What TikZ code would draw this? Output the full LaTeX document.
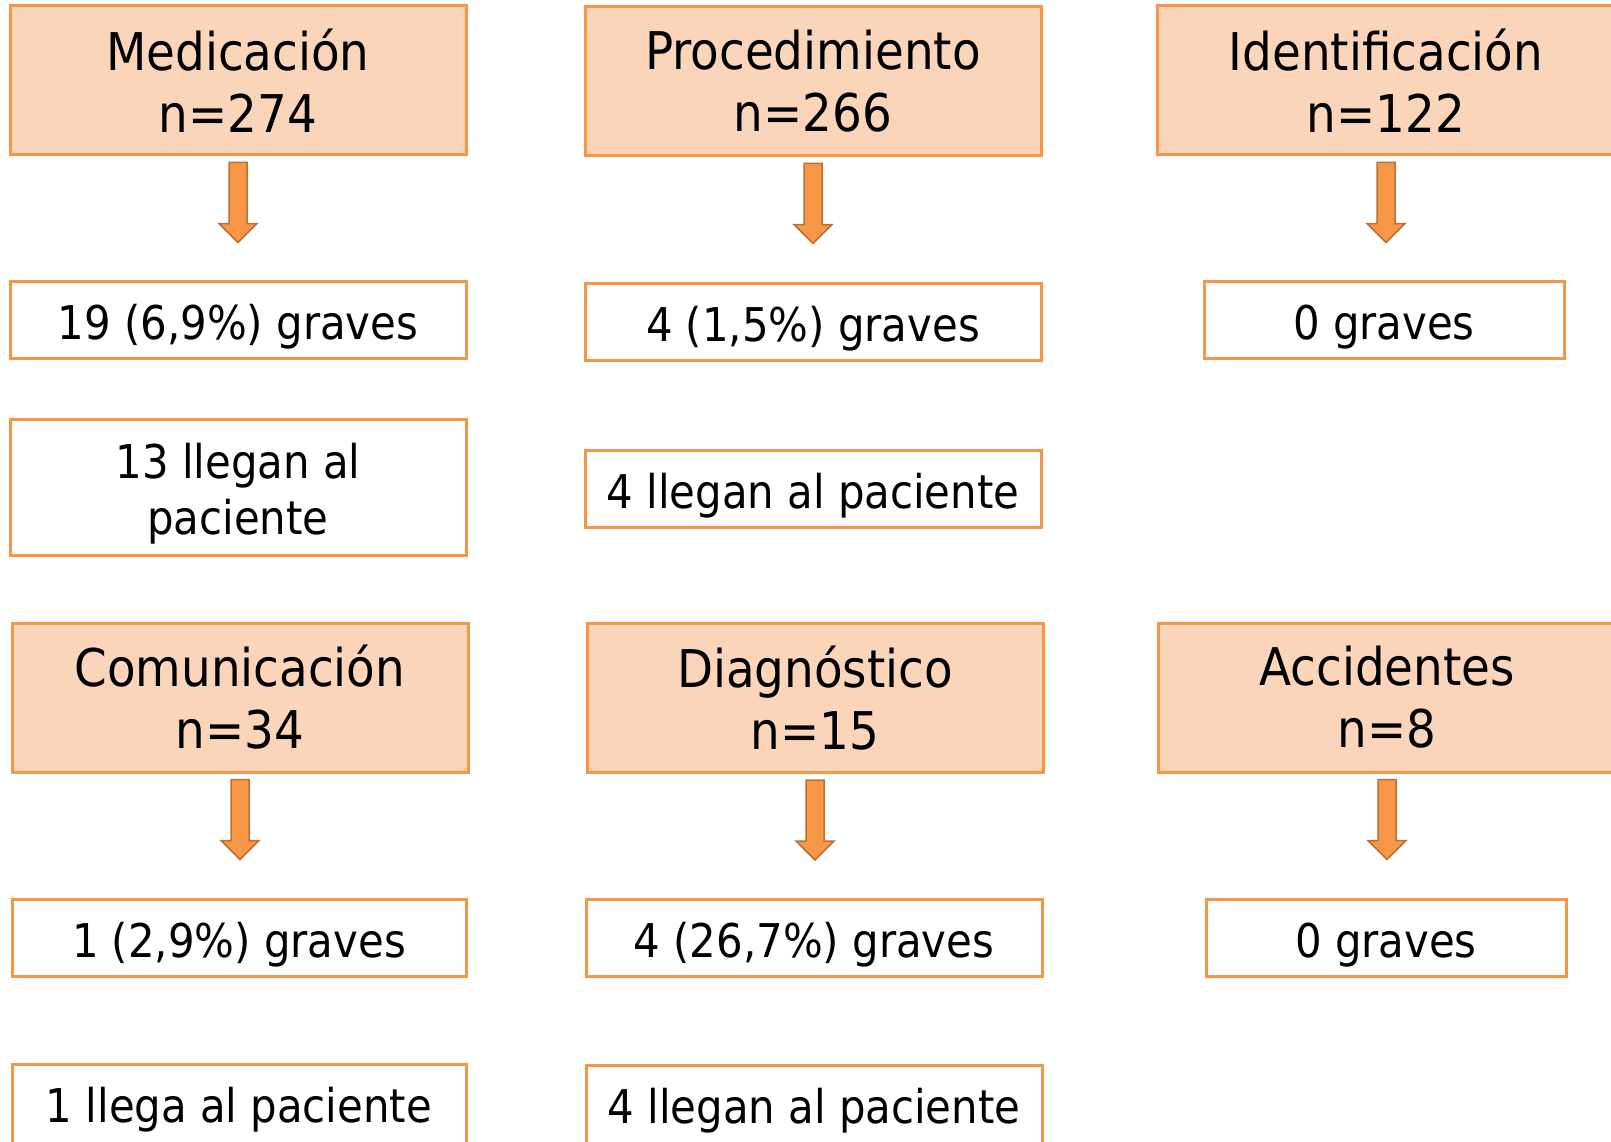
\documentclass[tikz,border=0pt]{standalone}
\usepackage{fontspec}
\setmainfont{DejaVu Sans Condensed}
\usetikzlibrary{calc}

\definecolor{naranja}{RGB}{247,150,70}
\definecolor{melocoton}{RGB}{250,213,186}
\definecolor{naranjaosc}{RGB}{185,113,53}

\tikzset{
        cabecera/.style={draw=naranja, fill=melocoton, line width=3pt, align=center,
                minimum width=456pt, minimum height=149pt, inner sep=0pt,
                font=\fontsize{52}{62}\selectfont},
        caja/.style={draw=naranja, fill=white, line width=3pt, align=center,
                minimum width=456pt, minimum height=77pt, inner sep=0pt,
                text height=45pt, text depth=6pt,
                font=\fontsize{46.5}{56}\selectfont},
        flecha/.style={draw=naranjaosc, fill=naranja, line width=1.5pt, line join=miter}
}

\begin{document}
\begin{tikzpicture}[x=1pt,y=-1pt]

        \useasboundingbox (0,0) rectangle (1611,1142);

        \node[cabecera] (med) at (238,80.5) {Medicación\\n=274};
        \node[cabecera] (proc) at (813,81.5) {Procedimiento\\n=266};
        \node[cabecera, minimum width=458pt] (ident) at (1386,80.5) {Identificación\\n=122};

        \node[caja] (medgrav) at (238,320) {19 (6,9\%) graves};
        \node[caja] (procgrav) at (813,321.5) {4 (1,5\%) graves};
        \node[caja, minimum width=360pt] (identgrav) at (1384,320) {0 graves};

        \node[caja, minimum height=136pt, text height=, text depth=] (medpac) at (238,487) {\rule{0pt}{49pt}13 llegan al\\paciente};
        \node[caja] (procpac) at (813,488.5) {4 llegan al paciente};

        \node[cabecera] (com) at (240,697.5) {Comunicación\\n=34};
        \node[cabecera] (diag) at (815,698) {Diagnóstico\\n=15};
        \node[cabecera, minimum width=458pt] (acc) at (1387,697.5) {Accidentes\\n=8};

        \node[caja, minimum width=454pt] (comgrav) at (239,937.5) {1 (2,9\%) graves};
        \node[caja] (diaggrav) at (814,938) {4 (26,7\%) graves};
        \node[caja, minimum width=360pt] (accgrav) at (1386,937.5) {0 graves};

        \node[caja, minimum width=454pt, minimum height=82pt, text height=40pt] (compac) at (239,1105) {1 llega al paciente};
        \node[caja, minimum height=82pt, text height=40pt] (diagpac) at (814,1106) {4 llegan al paciente};

        \draw[flecha] ($(med.south)+(-9,6)$) -- ++(18,0) -- ++(0,61) -- ++(10,0) -- ++(-19,19) -- ++(-19,-19) -- ++(10,0) -- cycle;
        \draw[flecha] ($(proc.south)+(-9,6)$) -- ++(18,0) -- ++(0,61) -- ++(10,0) -- ++(-19,19) -- ++(-19,-19) -- ++(10,0) -- cycle;
        \draw[flecha] ($(ident.south)+(-9,6)$) -- ++(18,0) -- ++(0,61) -- ++(10,0) -- ++(-19,19) -- ++(-19,-19) -- ++(10,0) -- cycle;

        \draw[flecha] ($(com.south)+(-9,6)$) -- ++(18,0) -- ++(0,61) -- ++(10,0) -- ++(-19,19) -- ++(-19,-19) -- ++(10,0) -- cycle;
        \draw[flecha] ($(diag.south)+(-9,6)$) -- ++(18,0) -- ++(0,61) -- ++(10,0) -- ++(-19,19) -- ++(-19,-19) -- ++(10,0) -- cycle;
        \draw[flecha] ($(acc.south)+(-9,6)$) -- ++(18,0) -- ++(0,61) -- ++(10,0) -- ++(-19,19) -- ++(-19,-19) -- ++(10,0) -- cycle;

\end{tikzpicture}
\end{document}
